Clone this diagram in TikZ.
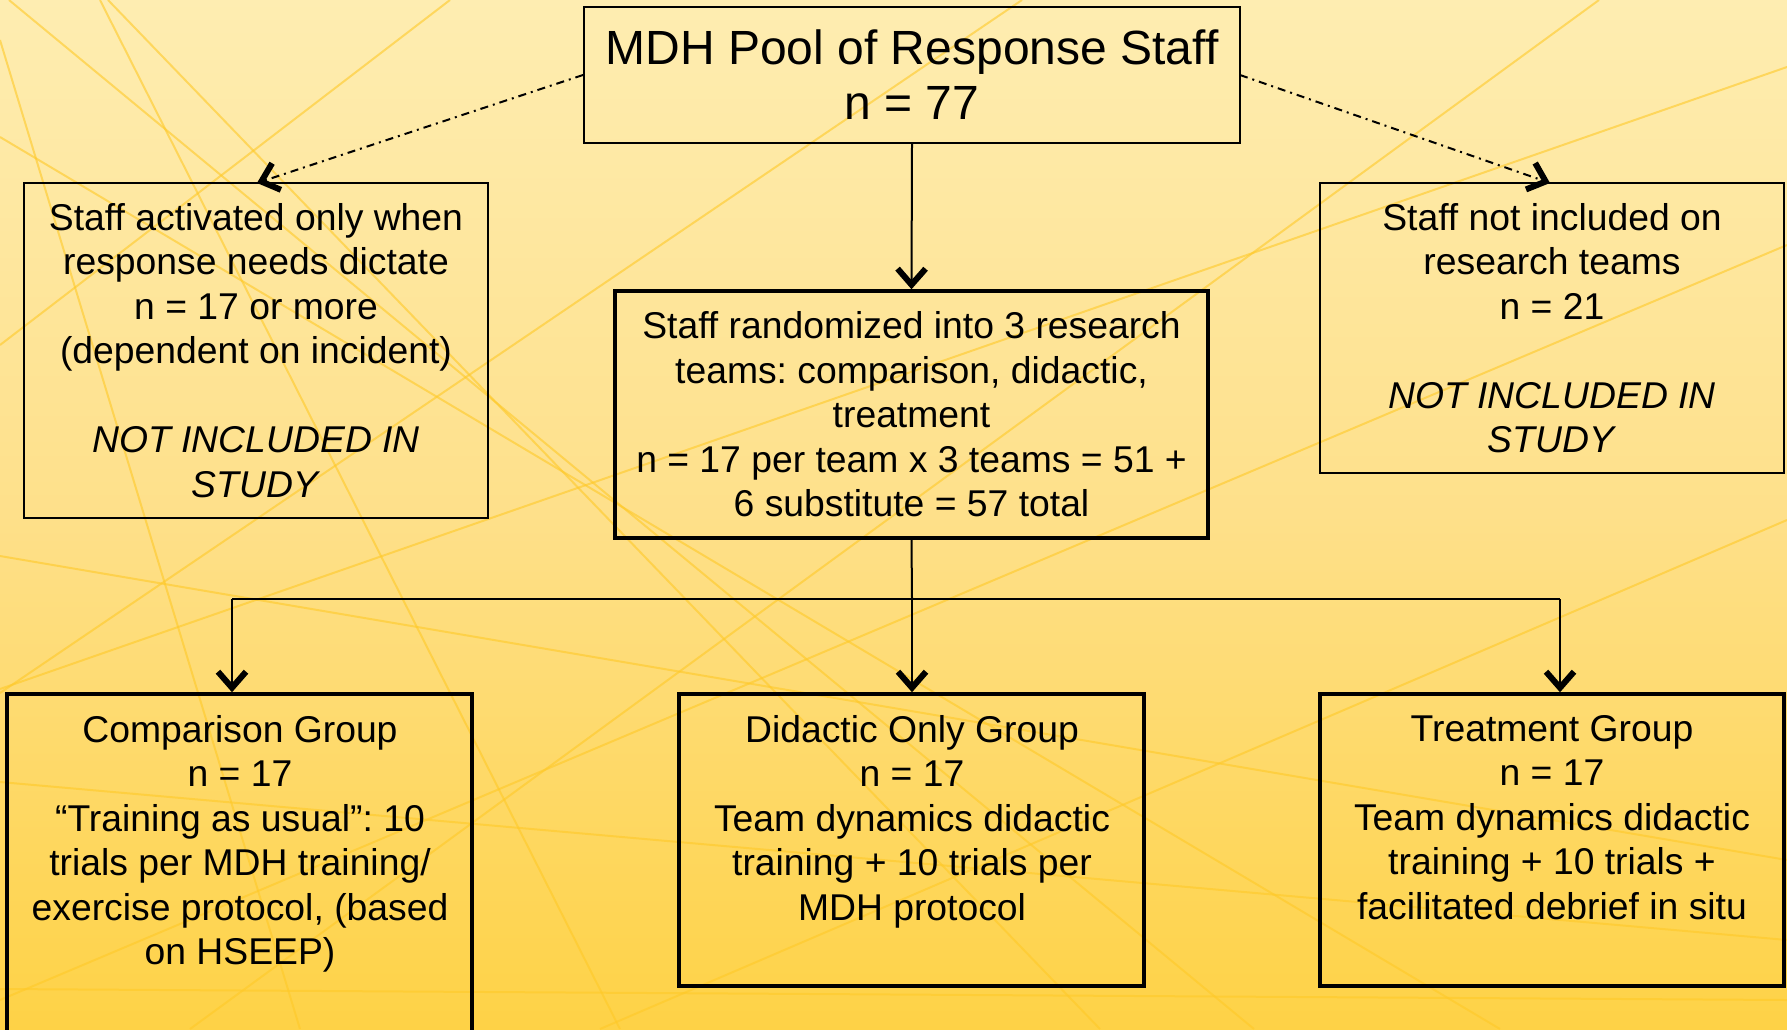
\documentclass[tikz,border=0pt]{standalone}
\usepackage{fontspec}
\setmainfont{Liberation Sans}
\usetikzlibrary{arrows.meta}
\definecolor{bgtop}{HTML}{FEEDB1}
\definecolor{bgmid}{HTML}{FEE08A}
\definecolor{bgbot}{HTML}{FED246}
\definecolor{bgline}{HTML}{FFC928}
\frenchspacing
\begin{document}
\begin{tikzpicture}[x=1pt,y=-1pt,
  bgl/.style={draw=bgline,line width=2pt,opacity=0.6},
  thinbox/.style={draw=black,line width=2pt,inner sep=0pt,align=center},
  thickbox/.style={draw=black,line width=3.5pt,inner sep=0pt,align=center},
  body/.style={font=\fontsize{37.3}{44.5}\selectfont},
  title/.style={font=\fontsize{48}{55}\selectfont},
  txt/.style={body,inner sep=0pt,align=center,anchor=north},
  conn/.style={draw=black,line width=2pt},
  arr/.style={conn,-{Straight Barb[length=16pt,width=28pt,line width=6pt]}},
  dasharr/.style={arr,dash pattern=on 8pt off 5pt on 2pt off 5pt}]
\useasboundingbox (0,0) rectangle (1787,1029);
\shade[top color=bgtop,bottom color=bgbot,middle color=bgmid] (0,0) rectangle (1787,1029);
% decorative background lines
\begin{scope}
\clip (0,0) rectangle (1787,1029);
\draw[bgl] (450,0) -- (0,345);
\draw[bgl] (1022,0) -- (0,693);
\draw[bgl] (1599,0) -- (190,1029);
\draw[bgl] (1787,245) -- (0,1000);
\draw[bgl] (1787,520) -- (600,1029);
\draw[bgl] (9,0) -- (1254,1029);
\draw[bgl] (108,0) -- (1100,1029);
\draw[bgl] (100,0) -- (620,1029);
\draw[bgl] (0,40) -- (300,1029);
\draw[bgl] (0,137) -- (1500,1029);
\draw[bgl] (0,556) -- (1787,860);
\draw[bgl] (0,782) -- (1787,940);
\draw[bgl] (0,989) -- (1787,1000);
\draw[bgl] (0,689) -- (1787,67);
\end{scope}
% boxes
\node[thinbox,title,minimum width=656pt,minimum height=136pt] (top) at (912,75)
  {MDH Pool of Response Staff\\n = 77};
\node[thinbox,body,minimum width=464pt,minimum height=335pt] (left) at (256,350.5)
  {Staff activated only when\\response needs dictate\\n = 17 or more\\(dependent on incident)\\[44.5pt]\textit{NOT INCLUDED IN}\\\textit{STUDY}};
\node[thickbox,body,minimum width=593pt,minimum height=247pt] (mid) at (911.5,414.5)
  {Staff randomized into 3 research\\teams: comparison, didactic,\\treatment\\n = 17 per team x 3 teams = 51 +\\6 substitute = 57 total};
\node[thinbox,body,minimum width=464pt,minimum height=290pt] (right) at (1552,328)
  {Staff not included on\\research teams\\n = 21\\[44.5pt]\textit{NOT INCLUDED IN}\\\textit{STUDY}};
\node[thickbox,minimum width=465pt,minimum height=352pt] (bl) at (239.5,870) {};
\node[thickbox,minimum width=465pt,minimum height=292pt] (bm) at (911.5,840) {};
\node[thickbox,minimum width=464pt,minimum height=292pt] (br) at (1552,840) {};
\node[txt] (blt) at (240,715) {Comparison Group\\n = 17\\“Training as usual”: 10\\trials per MDH training/\\exercise protocol, (based\\on HSEEP)};
\node[txt] (bmt) at (912,715) {Didactic Only Group\\n = 17\\Team dynamics didactic\\training + 10 trials per\\MDH protocol};
\node[txt] (brt) at (1552,715) {Treatment Group\\n = 17\\Team dynamics didactic\\training + 10 trials +\\facilitated debrief in situ};
% connectors
\coordinate (ls) at (583,75);
\coordinate (lt) at (257,183);
\coordinate (rs) at (1240,75);
\coordinate (rt) at (1550,183);
\draw[dasharr] (ls) -- (lt);
\draw[dasharr] (rs) -- (rt);
\draw[arr] (top.south) -- (mid.north);
\coordinate (jm) at (912,599);
\coordinate (jl) at (232,599);
\coordinate (jr) at (1560,599);
\draw[conn] (mid.south) -- (jm);
\draw[conn] (jl) -- (jr);
\draw[arr] (jl) -- (jl |- bl.north);
\draw[arr] (jm) -- (jm |- bm.north);
\draw[arr] (jr) -- (jr |- br.north);
\end{tikzpicture}
\end{document}
